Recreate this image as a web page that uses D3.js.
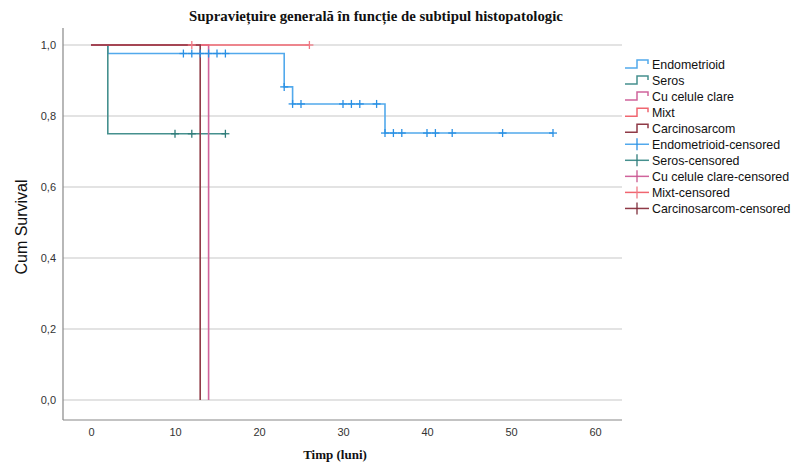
<!DOCTYPE html>
<html>
<head>
<meta charset="utf-8">
<script src="https://cdn.jsdelivr.net/npm/d3@7"></script>
<style>
  body { margin: 0; background: #fff; }
  svg { display: block; }
</style>
</head>
<body>
<svg id="chart"></svg>
<script>
// Kaplan-Meier steps
const groups = ['Endometrioid', 'Seros', 'Cu celule clare', 'Mixt', 'Carcinosarcom'];
const colors = ['#52a9ec', '#45908e', '#d0649c', '#f06670', '#8f3a47'];
const censorColors = ['#2a90e4', '#2f7c7a', '#c85590', '#f07a86', '#7e2f3b'];

// step times and survival after each step
const endoTimes = [0, 2, 23, 24, 35, 55];
const endoSurv = [1.0, 0.976, 0.882, 0.834, 0.752, 0.752];
const endoCensored = [11, 12, 13, 14, 15, 16, 23, 24, 25, 30, 31, 32, 34, 35, 36, 37, 40, 41, 43, 49, 55];

const serosTimes = [0, 2, 16];
const serosSurv = [1.0, 0.75, 0.75];
const serosCensored = [10, 12, 16];

const clareTimes = [0, 14];
const clareSurv = [1.0, 0.0];
const clareCensored = [];

const mixtTimes = [0, 26];
const mixtSurv = [1.0, 1.0];
const mixtCensored = [12, 26];

const carcTimes = [0, 13];
const carcSurv = [1.0, 0.0];
const carcCensored = [];

const xTicks = [0, 10, 20, 30, 40, 50, 60];
const yTicks = [0, 0.2, 0.4, 0.6, 0.8, 1.0];

const series = [
  { times: endoTimes, surv: endoSurv, cens: endoCensored },
  { times: serosTimes, surv: serosSurv, cens: serosCensored },
  { times: clareTimes, surv: clareSurv, cens: clareCensored },
  { times: mixtTimes, surv: mixtSurv, cens: mixtCensored },
  { times: carcTimes, surv: carcSurv, cens: carcCensored }
];

const width = 794, height = 463;
const svg = d3.select('#chart')
  .attr('width', width)
  .attr('height', height);

const plotLeft = 63, plotRight = 622, plotTop = 28, plotBottom = 420;

const x = d3.scaleLinear().domain([0, 60]).range([91, 595]);
const y = d3.scaleLinear().domain([0, 1]).range([400, 45]);

// title
svg.append('text')
  .attr('x', 376)
  .attr('y', 21)
  .attr('text-anchor', 'middle')
  .attr('font-family', 'Liberation Serif, Times New Roman, serif')
  .attr('font-weight', 'bold')
  .attr('font-size', 14.8)
  .attr('fill', '#111')
  .text('Supraviețuire generală în funcție de subtipul histopatologic');

// grid
svg.append('g')
  .selectAll('line')
  .data(yTicks)
  .join('line')
    .attr('x1', plotLeft)
    .attr('x2', plotRight)
    .attr('y1', d => y(d))
    .attr('y2', d => y(d))
    .attr('stroke', '#c8c8c8')
    .attr('stroke-width', 1.2);

// axes
const yAxis = svg.append('g')
  .attr('transform', `translate(${plotLeft},0)`)
  .call(d3.axisLeft(y).tickValues(yTicks).tickSize(0).tickPadding(7)
    .tickFormat(d => d3.format('.1f')(d).replace('.', ',')));
yAxis.select('.domain').remove();
yAxis.selectAll('text')
  .attr('font-family', 'Liberation Sans, Arial, sans-serif')
  .attr('font-size', 11)
  .attr('fill', '#333');

const xAxis = svg.append('g')
  .attr('transform', `translate(0,${plotBottom})`)
  .call(d3.axisBottom(x).tickValues(xTicks).tickSize(0).tickPadding(8));
xAxis.select('.domain').remove();
xAxis.selectAll('text')
  .attr('font-family', 'Liberation Sans Narrow, Liberation Sans, Arial, sans-serif')
  .attr('font-size', 11)
  .attr('fill', '#333');

svg.append('line')
  .attr('x1', plotLeft).attr('x2', plotLeft)
  .attr('y1', plotTop).attr('y2', plotBottom)
  .attr('stroke', '#888').attr('stroke-width', 1.2);
svg.append('line')
  .attr('x1', plotLeft).attr('x2', plotRight)
  .attr('y1', plotBottom).attr('y2', plotBottom)
  .attr('stroke', '#888').attr('stroke-width', 1.2);

// axis titles
svg.append('text')
  .attr('x', 335)
  .attr('y', 459)
  .attr('text-anchor', 'middle')
  .attr('font-family', 'Liberation Serif, Times New Roman, serif')
  .attr('font-weight', 'bold')
  .attr('font-size', 13)
  .attr('fill', '#111')
  .text('Timp (luni)');

svg.append('text')
  .attr('transform', 'translate(27,227) rotate(-90)')
  .attr('text-anchor', 'middle')
  .attr('font-family', 'Liberation Sans, Arial, sans-serif')
  .attr('font-size', 16)
  .attr('fill', '#111')
  .text('Cum Survival');

// survival value just after time t
function survAt(s, t) {
  let v = s.surv[0];
  s.times.forEach((tt, i) => { if (tt <= t) v = s.surv[i]; });
  return v;
}

function stepPoints(s) {
  const pts = [[s.times[0], s.surv[0]]];
  for (let i = 1; i < s.times.length; i++) {
    pts.push([s.times[i], s.surv[i - 1]]);
    pts.push([s.times[i], s.surv[i]]);
  }
  return pts;
}

const line = d3.line().x(d => x(d[0])).y(d => y(d[1]));

const plot = svg.append('g');
series.forEach((s, i) => {
  plot.append('path')
    .attr('d', line(stepPoints(s)))
    .attr('fill', 'none')
    .attr('stroke', colors[i])
    .attr('stroke-width', 1.6);
});

series.forEach((s, i) => {
  const cg = plot.append('g').attr('stroke', censorColors[i]).attr('stroke-width', 1.3);
  s.cens.forEach(t => {
    const cx = x(t), cy = y(survAt(s, t));
    cg.append('line').attr('x1', cx).attr('x2', cx).attr('y1', cy - 4).attr('y2', cy + 4);
    cg.append('line').attr('x1', cx - 4).attr('x2', cx + 4).attr('y1', cy).attr('y2', cy);
  });
});

// legend
const legendY0 = 64, legendStep = 16.05;
const legend = svg.append('g');
groups.forEach((g, i) => {
  const ly = legendY0 + i * legendStep;
  legend.append('path')
    .attr('d', `M625,${ly + 4}H637V${ly - 4}H648V${ly}`)
    .attr('fill', 'none')
    .attr('stroke', colors[i])
    .attr('stroke-width', 1.5);
  legend.append('text')
    .attr('x', 652).attr('y', ly + 4.5)
    .attr('font-family', 'Liberation Sans, Arial, sans-serif')
    .attr('font-size', 12.4)
    .attr('fill', '#111')
    .text(g);
});
groups.forEach((g, i) => {
  const ly = legendY0 + (i + 5) * legendStep;
  legend.append('line')
    .attr('x1', 625).attr('x2', 649).attr('y1', ly).attr('y2', ly)
    .attr('stroke', colors[i]).attr('stroke-width', 1.5);
  legend.append('line')
    .attr('x1', 637).attr('x2', 637).attr('y1', ly - 6).attr('y2', ly + 6)
    .attr('stroke', censorColors[i]).attr('stroke-width', 1.3);
  legend.append('text')
    .attr('x', 652).attr('y', ly + 4.5)
    .attr('font-family', 'Liberation Sans, Arial, sans-serif')
    .attr('font-size', 12.4)
    .attr('fill', '#111')
    .text(g + '-censored');
});
</script>
</body>
</html>
